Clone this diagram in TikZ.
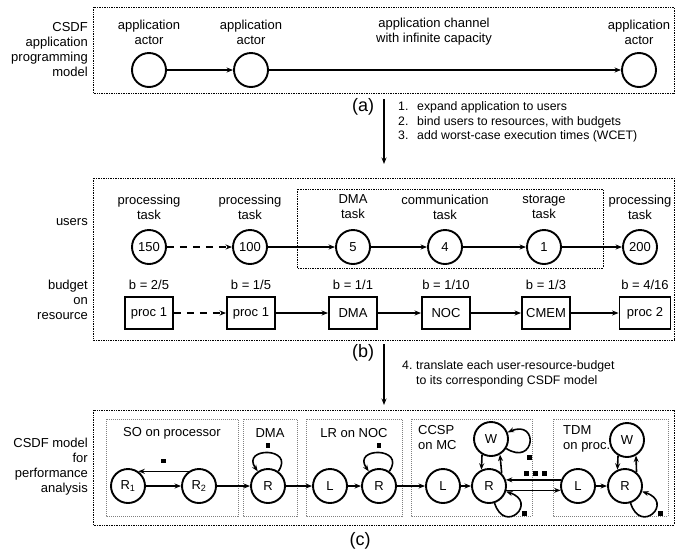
\documentclass[tikz,border=0pt]{standalone}
\usepackage{fontspec}
\setmainfont{Liberation Sans}
\usetikzlibrary{arrows.meta, positioning}
\def\actorSize{34pt}
\def\resW{48pt}
\def\resH{32pt}
\def\loopD{34pt}
\def\topLoopD{30pt}

\begin{document}
\begin{tikzpicture}[
    x=1pt, y=1pt,
    font=\fontsize{13}{15}\selectfont,
    >={Stealth[length=6.5pt,width=5pt]},
    flow/.style={->, line width=1.6pt},
    actor/.style={circle, draw, line width=1.9pt, minimum size=\actorSize, inner sep=0pt},
    res/.style={draw, line width=1.9pt, minimum width=\resW, minimum height=\resH, inner sep=0pt},
    lbl/.style={align=center, inner sep=0pt},
    side/.style={align=right, anchor=east, inner sep=0pt},
    token/.style={fill, minimum size=4.5pt, inner sep=0pt},
    frame/.style={draw, densely dotted, line width=0.7pt},
    group/.style={draw=gray, densely dotted, line width=1pt},
    phase/.style={font=\fontsize{18}{20}\selectfont, inner sep=0pt},
    steps/.style={anchor=west, align=left, inner sep=0pt, font=\fontsize{12.3}{14.5}\selectfont}
]
\useasboundingbox (0,0) rectangle (692,-555);

% application programming model
\draw[frame] (93,-7) rectangle (674,-93);
\node[side] (applbl) at (88,-50) {CSDF\\application\\programming\\model};
\node[actor] (a1) at (149,-70) {};
\node[actor] (a2) at (251,-70) {};
\node[actor] (a3) at (639,-70) {};
\node[lbl] (a1txt) at (149,-32) {application\\actor};
\node[lbl] (a2txt) at (251,-32) {application\\actor};
\node[lbl] (a3txt) at (639,-32) {application\\actor};
\node[lbl] (chtxt) at (434,-32) {application channel\\with infinite capacity};
\draw[flow] (a1) -- (a2);
\draw[flow] (a2) -- (a3);

% step (a)
\node[phase] (pa) at (363,-107) {(a)};
\coordinate (pastart) at (384,-99);
\coordinate (paend) at (384,-164);
\draw[flow] (pastart) -- (paend);
\node[steps] (stepsa) at (398,-122) {\makebox[19pt][l]{1.}expand application to users\\
    \makebox[19pt][l]{2.}bind users to resources, with budgets\\
    \makebox[19pt][l]{3.}add worst-case execution times (WCET)};

% users and budgets
\draw[frame] (93,-178) rectangle (674,-340);
\draw[frame] (297,-189) rectangle (603,-268);
\node[side] (userlbl) at (88,-222) {users};
\node[side] (budlbl) at (88,-300) {budget\\on\\resource};

\node[lbl] (u150txt) at (149,-207) {processing\\task};
\node[lbl] (u100txt) at (250,-207) {processing\\task};
\node[lbl] (u5txt) at (353,-207) {DMA\\task};
\node[lbl] (u4txt) at (445,-207) {communication\\task};
\node[lbl] (u1txt) at (544,-207) {storage\\task};
\node[lbl] (u200txt) at (640,-207) {processing\\task};

\node[actor] (u150) at (149,-247) {150};
\node[actor] (u100) at (250,-247) {100};
\node[actor] (u5) at (353,-247) {5};
\node[actor] (u4) at (445,-247) {4};
\node[actor] (u1) at (544,-247) {1};
\node[actor] (u200) at (640,-247) {200};
\draw[flow, dash pattern=on 7pt off 6pt] (u150) -- (u100);
\draw[flow] (u100) -- (u5);
\draw[flow] (u5) -- (u4);
\draw[flow] (u4) -- (u1);
\draw[flow] (u1) -- (u200);

\node[lbl] (b1txt) at (149,-285) {b = 2/5};
\node[lbl] (b2txt) at (251,-285) {b = 1/5};
\node[lbl] (b3txt) at (353,-285) {b = 1/1};
\node[lbl] (b4txt) at (446,-285) {b = 1/10};
\node[lbl] (b5txt) at (546,-285) {b = 1/3};
\node[lbl] (b6txt) at (645,-285) {b = 4/16};

\node[res] (proca) at (149,-313) {proc 1};
\node[res] (procb) at (251,-313) {proc 1};
\node[res] (dma) at (353,-313) {DMA};
\node[res] (noc) at (446,-313) {NOC};
\node[res] (cmem) at (546,-313) {CMEM};
\node[res, minimum width=51pt] (procc) at (645,-313) {proc 2};
\draw[flow, dash pattern=on 7pt off 6pt] (proca) -- (procb);
\draw[flow] (procb) -- (dma);
\draw[flow] (dma) -- (noc);
\draw[flow] (noc) -- (cmem);
\draw[flow] (cmem) -- (procc);

% step (b)
\node[phase] (pb) at (363,-353) {(b)};
\coordinate (pbstart) at (384,-344);
\coordinate (pbend) at (384,-405);
\draw[flow] (pbstart) -- (pbend);
\node[steps] (stepsb) at (402,-374) {\makebox[14pt][l]{4.}translate each user-resource-budget\\
    \hspace*{14pt}to its corresponding CSDF model};

% CSDF model for performance analysis
\draw[frame] (93,-410) rectangle (674,-525);
\node[side] (csdflbl) at (88,-467) {CSDF model\\for\\performance\\analysis};
\draw[group] (106,-419) rectangle (238,-516);
\draw[group] (243,-419) rectangle (297,-516);
\draw[group] (306,-419) rectangle (402,-516);
\draw[group] (411,-419) rectangle (532,-516);
\draw[group] (553,-419) rectangle (668,-516);
\node[lbl] (sotxt) at (172,-433) {SO on processor};
\node[lbl] (dmatxt) at (270,-433) {DMA};
\node[lbl] (lrtxt) at (354,-433) {LR on NOC};
\node[lbl, anchor=north west, align=left] (ccsptxt) at (418,-425) {CCSP\\on MC};
\node[lbl, anchor=north west, align=left] (tdmtxt) at (563,-425) {TDM\\on proc.};

\node[actor] (r1) at (128,-486) {R\textsubscript{1}};
\node[actor] (r2) at (199,-486) {R\textsubscript{2}};
\node[actor] (rdma) at (268,-486) {R};
\node[actor] (lnoc) at (330,-486) {L};
\node[actor] (rnoc) at (379,-486) {R};
\node[actor] (lmc) at (443,-486) {L};
\node[actor] (rmc) at (489,-486) {R};
\node[actor] (wmc) at (491,-439) {W};
\node[actor] (ltdm) at (578,-486) {L};
\node[actor] (rtdm) at (625,-486) {R};
\node[actor] (wtdm) at (627,-440) {W};

\draw[flow] (r1) -- (r2);
\draw[flow] (r2.125) -- (r1.55) node[token, midway, above=7.5pt] (k1) {};
\draw[flow] (r2) -- (rdma);
\draw[flow] (rdma) to[out=55, in=125, distance=\topLoopD] node[token, above=4.5pt] (k2) {} (rdma);
\draw[flow] (rdma) -- (lnoc);
\draw[flow] (lnoc) -- (rnoc);
\draw[flow] (rnoc) to[out=55, in=125, distance=\topLoopD] node[token, above=4.5pt] (k3) {} (rnoc);
\draw[flow] (rnoc) -- (lmc);
\draw[flow] (lmc) -- (rmc);
\draw[flow] (wmc.240) -- (rmc.115);
\draw[flow] (rmc.45) -- (wmc.300);
\draw[flow] (wmc) to[out=-32, in=22, distance=\loopD] node[token, below=12pt] (k4) {} (wmc);
\draw[flow] (rmc) to[out=-72, in=-18, distance=\loopD] node[token, right=5pt] (k5) {} (rmc);
\draw[flow] (ltdm.160) -- (rmc.20)
    node[token, pos=0.30, above=3.5pt] (k6) {}
    node[token, pos=0.46, above=3.5pt] (k7) {}
    node[token, pos=0.63, above=3.5pt] (k8) {};
\draw[flow] (rmc.-14) -- (ltdm.194);
\draw[flow] (ltdm) -- (rtdm);
\draw[flow] (wtdm.240) -- (rtdm.115);
\draw[flow] (rtdm.50) -- (wtdm.300);
\draw[flow] (rtdm) to[out=-72, in=-18, distance=\loopD] node[token, right=5pt] (k9) {} (rtdm);

\node[phase] (pc) at (360,-541) {(c)};
\end{tikzpicture}
\end{document}
